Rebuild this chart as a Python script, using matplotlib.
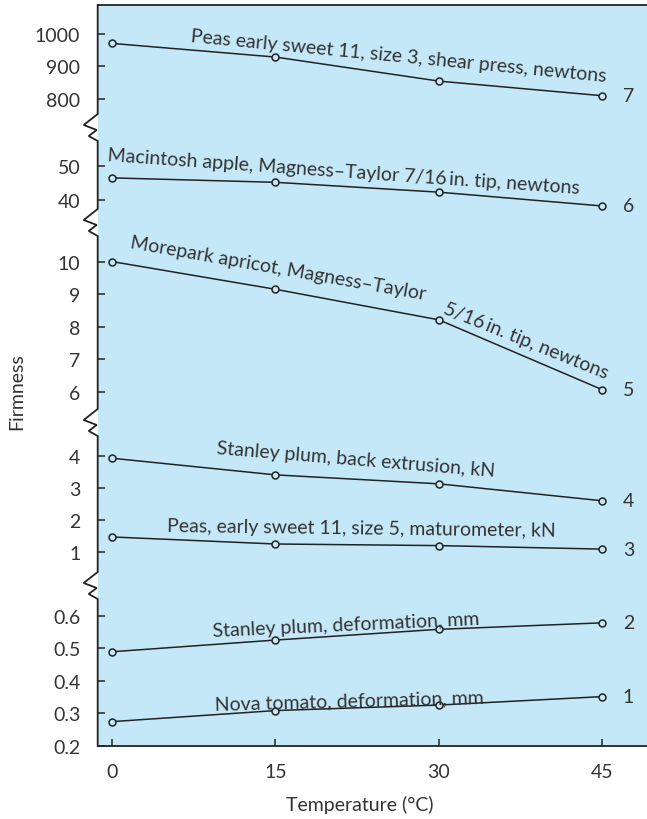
import numpy as np
import matplotlib
matplotlib.use('Agg')
from matplotlib import pyplot as plt

# temperatures (deg C) and firmness readings
temps = [0, 15, 30, 45]
peas_shear = [971, 929, 855, 810]          # 7, newtons
apple_mt = [46.5, 45.2, 42.3, 37.1]        # 6, newtons
apricot_mt = [10.2, 9.16, 8.22, 6.07]      # 5, newtons
plum_extrusion = [3.93, 3.41, 3.13, 2.6]   # 4, kN
peas_maturometer = [1.47, 1.25, 1.2, 1.09] # 3, kN
plum_deform = [0.49, 0.526, 0.559, 0.579]  # 2, mm
tomato_deform = [0.275, 0.309, 0.326, 0.352]  # 1, mm

series = [peas_shear, apple_mt, apricot_mt, plum_extrusion,
          peas_maturometer, plum_deform, tomato_deform]
curve_nums = ['7', '6', '5', '4', '3', '2', '1']

ytick_vals = [0.2, 0.3, 0.4, 0.5, 0.6, 1, 2, 3, 4, 6, 7, 8, 9, 10, 40, 50, 800, 900, 1000]
ytick_labels = ['0.2', '0.3', '0.4', '0.5', '0.6', '1', '2', '3', '4', '6', '7', '8',
                '9', '10', '40', '50', '800', '900', '1000']

# broken y axis: piecewise linear scale (value -> position)
seg_vals = [0.2, 0.6, 1, 4, 6, 10, 40, 50, 800, 1000, 1100]
seg_pos = [73, 203, 267, 363, 427, 557, 619, 653, 720, 785, 817.5]


def fwd(v):
    return np.interp(v, seg_vals, seg_pos)


def inv(p):
    return np.interp(p, seg_pos, seg_vals)


BG = '#c5e8f8'
INK = '#333333'
LINE = '#222222'
FS = 14
plt.rcParams['font.family'] = ['Lato', 'DejaVu Sans']

fig = plt.figure(figsize=(6.47, 8.2), dpi=100)
W, H = 647, 820
ax_l, ax_b, ax_w, ax_h = 97.7, 73, 647 - 97.7, 741
ax = fig.add_axes([ax_l / W, ax_b / H, ax_w / W, ax_h / H])
ax.set_facecolor(BG)
ax.set_yscale('function', functions=(fwd, inv))
ax.set_ylim(0.2, 1089.2)
ax.set_xlim(-1.32, 49.1)

for ys, num in zip(series, curve_nums):
    ax.plot(temps, ys, color=LINE, lw=1.1, marker='o', ms=5, mfc=BG, mec=LINE, mew=1.1)
    ax.annotate(num, xy=(temps[-1], ys[-1]), xytext=(26, 0), textcoords='offset pixels',
                ha='center', va='center', fontsize=FS, color=INK)

# curve labels: text, anchor (axes fraction), rotation
labels = [
    ('Peas early sweet 11, size 3, shear press, newtons', 0.168, 0.9514, -5.5),
    ('Macintosh apple, Magness\u2013Taylor 7/16\u2009in. tip, newtons', 0.0175, 0.7912, -4.0),
    ('Morepark apricot, Magness\u2013Taylor', 0.0588, 0.6734, -10.0),
    ('5/16\u2009in. tip, newtons', 0.6263, 0.5857, -22.0),
    ('Stanley plum, back extrusion, kN', 0.2166, 0.3950, -4.7),
    ('Peas, early sweet 11, size 5, maturometer, kN', 0.1256, 0.2905, -0.7),
    ('Stanley plum, deformation, mm', 0.2104, 0.1480, 2.6),
    ('Nova tomato, deformation, mm', 0.2135, 0.0499, 1.5),
]
for txt, fx, fy, rot in labels:
    ax.text(fx, fy, txt, transform=ax.transAxes, rotation=rot, rotation_mode='anchor',
            ha='left', va='baseline', fontsize=FS, color=INK)

ax.set_yticks(ytick_vals, ytick_labels)
ax.yaxis.set_minor_locator(matplotlib.ticker.NullLocator())
ax.set_xticks(temps)
ax.tick_params(axis='both', direction='in', length=5, width=1.1, color=LINE,
               labelsize=FS, labelcolor=INK)
ax.tick_params(axis='y', pad=12.5)
ax.tick_params(axis='x', pad=12)

for s in ['left', 'right']:
    ax.spines[s].set_visible(False)
for s in ['top', 'bottom']:
    ax.spines[s].set_linewidth(1.3)
    ax.spines[s].set_color(LINE)

# left spine with zigzag breaks (pixel offsets from the spine)
breaks_px = [128.5, 223.5, 423.5, 586.5]
zig = [(0, -13.5), (-14, -2.5), (-1, 2.5), (-9, 8.5), (0, 13.5)]
xs, ys = [0], [1]
for c in breaks_px:
    for dx, dy in zig:
        xs.append(dx / ax_w)
        ys.append((747 - (c + dy)) / ax_h)
xs.append(0)
ys.append(0)
ax.plot(xs, ys, transform=ax.transAxes, color=LINE, lw=1.3, clip_on=False,
        solid_joinstyle='miter')

fig.text(360 / W, 1 - 805 / H, 'Temperature (\u00b0C)', ha='center', va='center',
         fontsize=FS, color=INK)
fig.text(17 / W, 1 - 392 / H, 'Firmness', rotation=90, ha='center', va='center',
         fontsize=FS, color=INK)

fig.savefig('out.png', dpi=100)
